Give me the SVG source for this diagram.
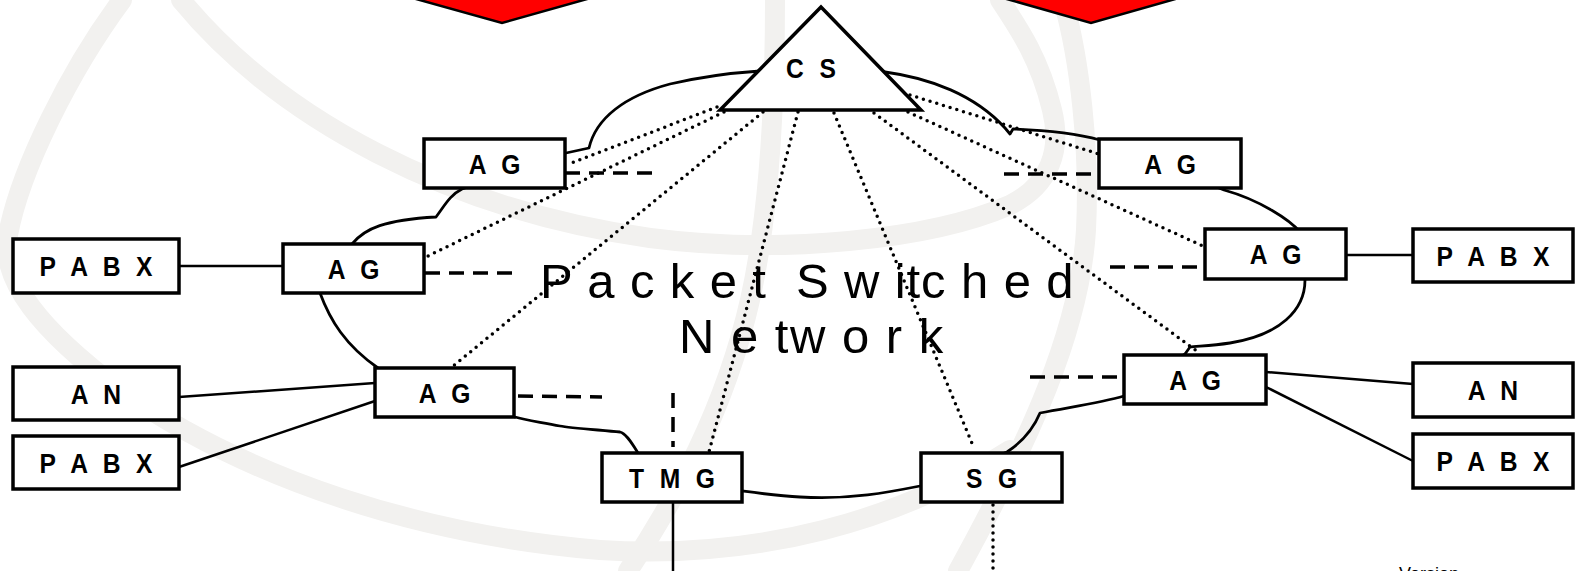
<svg xmlns="http://www.w3.org/2000/svg" width="1579" height="571" viewBox="0 0 1579 571">
<style>
.wm{fill:none;stroke:#f2f1ef;stroke-width:20;stroke-linecap:round}
.box{fill:#fff;stroke:#000;stroke-width:3.5}
.lbl{font-family:"Liberation Sans",Arial,sans-serif;font-weight:bold;font-size:28px;letter-spacing:5px;text-anchor:middle;fill:#000}
.big{font-family:"Liberation Sans",Arial,sans-serif;font-size:49px;fill:#000;white-space:pre}
.solid{stroke:#000;stroke-width:2.5;fill:none}
.dash{stroke:#000;stroke-width:3.5;stroke-dasharray:15 9;fill:none}
.dot{stroke:#000;stroke-width:3.5;stroke-dasharray:0 7;stroke-linecap:round;fill:none}
.cloud{fill:none;stroke:#000;stroke-width:2.8;stroke-linejoin:round}
.red{fill:#ff0000;stroke:#000;stroke-width:2.5}
</style>
<rect width="1579" height="571" fill="#fff"/>
<g id="watermark">
<path class="wm" d="M122,0 C70,70 20,170 8,235 C0,280 40,330 120,390 C250,480 420,535 600,550 C760,560 900,520 1010,450"/>
<path class="wm" d="M181,0 C280,120 450,210 650,238 C780,255 930,240 1010,205 C1050,185 1062,150 1052,110 C1040,60 1020,30 1000,0"/>
<path class="wm" d="M1063,0 C1080,60 1090,150 1086,230 C1080,330 1030,440 958,571"/>
<path class="wm" d="M775,0 C775,120 768,220 750,300 C725,410 675,500 628,571"/>
</g>
<g id="red-arrows">
<polygon class="red" points="391,-8 502,23 612,-8"/>
<polygon class="red" points="982,-8 1091,23 1200,-8"/>
</g>
<g id="cloud">
<path class="cloud" d="M566,153 L589,148 C596,118 625,96 670,84 C700,77 730,73 760,71 L885,72 C930,78 975,95 1005,128 L1010,134 L1013,129 C1040,130 1075,133 1100,140 L1224,190 C1260,200 1290,220 1300,232 L1305,280 C1305,310 1280,335 1230,343 C1210,346 1195,346 1190,347 L1185,354 L1124,396 C1100,403 1070,407 1040,413 C1035,425 1025,440 1007,452 L920,486 C890,492 850,500 800,497 C780,496 765,494 742,491 L638,453 C630,440 625,433 620,432 C600,430 570,428 560,426 C540,422 525,420 515,417 L378,368 C345,345 330,320 320,293 L352,244 C365,228 385,220 436,217 C445,205 450,195 462,189 Z"/>
</g>
<g id="connectors">
<line class="solid" x1="179" y1="266" x2="283" y2="266"/>
<line class="solid" x1="1346" y1="255" x2="1413" y2="255"/>
<line class="solid" x1="179" y1="397" x2="375" y2="383"/>
<line class="solid" x1="179" y1="467" x2="375" y2="401"/>
<line class="solid" x1="1266" y1="372" x2="1413" y2="384"/>
<line class="solid" x1="1266" y1="387" x2="1413" y2="461"/>
<line class="solid" x1="673" y1="502" x2="673" y2="571"/>
<line class="dash" x1="565" y1="173" x2="657" y2="173"/>
<line class="dash" x1="425" y1="273" x2="515" y2="273"/>
<line class="dash" x1="518" y1="396" x2="602" y2="397"/>
<line class="dash" x1="673" y1="393" x2="673" y2="447"/>
<line class="dash" x1="1030" y1="377" x2="1123" y2="377"/>
<line class="dash" x1="1110" y1="267" x2="1204" y2="267"/>
<line class="dash" x1="1004" y1="174" x2="1098" y2="174"/>
<line class="dot" x1="717" y1="107" x2="569" y2="164"/>
<line class="dot" x1="724" y1="112" x2="428" y2="256"/>
<line class="dot" x1="763" y1="112" x2="452" y2="367"/>
<line class="dot" x1="798" y1="112" x2="709" y2="452"/>
<line class="dot" x1="834" y1="113" x2="974" y2="448"/>
<line class="dot" x1="874" y1="113" x2="1198" y2="352"/>
<line class="dot" x1="908" y1="112" x2="1203" y2="246"/>
<line class="dot" x1="910" y1="95" x2="1099" y2="154"/>
<line class="dot" x1="993" y1="505" x2="993" y2="571"/>
</g>
<g id="label-network">
<text class="big" x="540" y="298" letter-spacing="0.9">P a c k e t  S w itc h e d</text>
<text class="big" x="679" y="353" letter-spacing="1.5">N e tw o r k</text>
</g>
<g id="CS"><polygon class="box" points="821,7 720,110 921,110"/><text class="lbl" transform="translate(811,68) scale(0.88,1)" x="2.5" y="10">C S</text></g>
<g id="AG-top-left"><rect class="box" x="424" y="139" width="141" height="49"/><text class="lbl" transform="translate(494.5,163.5) scale(0.88,1)" x="2.5" y="10">A G</text></g>
<g id="AG-top-right"><rect class="box" x="1099" y="139" width="142" height="49"/><text class="lbl" transform="translate(1170,163.5) scale(0.88,1)" x="2.5" y="10">A G</text></g>
<g id="AG-mid-left"><rect class="box" x="283" y="244" width="141" height="49"/><text class="lbl" transform="translate(353.5,268.5) scale(0.88,1)" x="2.5" y="10">A G</text></g>
<g id="AG-mid-right"><rect class="box" x="1205" y="229" width="141" height="50"/><text class="lbl" transform="translate(1275.5,254) scale(0.88,1)" x="2.5" y="10">A G</text></g>
<g id="AG-low-left"><rect class="box" x="375" y="368" width="139" height="49"/><text class="lbl" transform="translate(444.5,392.5) scale(0.88,1)" x="2.5" y="10">A G</text></g>
<g id="AG-low-right"><rect class="box" x="1124" y="355" width="142" height="49"/><text class="lbl" transform="translate(1195,379.5) scale(0.88,1)" x="2.5" y="10">A G</text></g>
<g id="TMG"><rect class="box" x="602" y="453" width="140" height="49"/><text class="lbl" transform="translate(672,477.5) scale(0.88,1)" x="2.5" y="10">T M G</text></g>
<g id="SG"><rect class="box" x="921" y="453" width="141" height="49"/><text class="lbl" transform="translate(991.5,477.5) scale(0.88,1)" x="2.5" y="10">S G</text></g>
<g id="PABX-left"><rect class="box" x="13" y="239" width="166" height="54"/><text class="lbl" transform="translate(96,266) scale(0.88,1)" x="2.5" y="10">P A B X</text></g>
<g id="PABX-right"><rect class="box" x="1413" y="229" width="160" height="53"/><text class="lbl" transform="translate(1493,255.5) scale(0.88,1)" x="2.5" y="10">P A B X</text></g>
<g id="AN-left"><rect class="box" x="13" y="367" width="166" height="53"/><text class="lbl" transform="translate(96,393.5) scale(0.88,1)" x="2.5" y="10">A N</text></g>
<g id="PABX-left-2"><rect class="box" x="13" y="436" width="166" height="53"/><text class="lbl" transform="translate(96,462.5) scale(0.88,1)" x="2.5" y="10">P A B X</text></g>
<g id="AN-right"><rect class="box" x="1413" y="363" width="160" height="54"/><text class="lbl" transform="translate(1493,390) scale(0.88,1)" x="2.5" y="10">A N</text></g>
<g id="PABX-right-2"><rect class="box" x="1413" y="434" width="160" height="54"/><text class="lbl" transform="translate(1493,461) scale(0.88,1)" x="2.5" y="10">P A B X</text></g>
<text x="1399" y="580" font-family="Liberation Sans, Arial, sans-serif" font-size="18" fill="#000">Version</text>
</svg>
